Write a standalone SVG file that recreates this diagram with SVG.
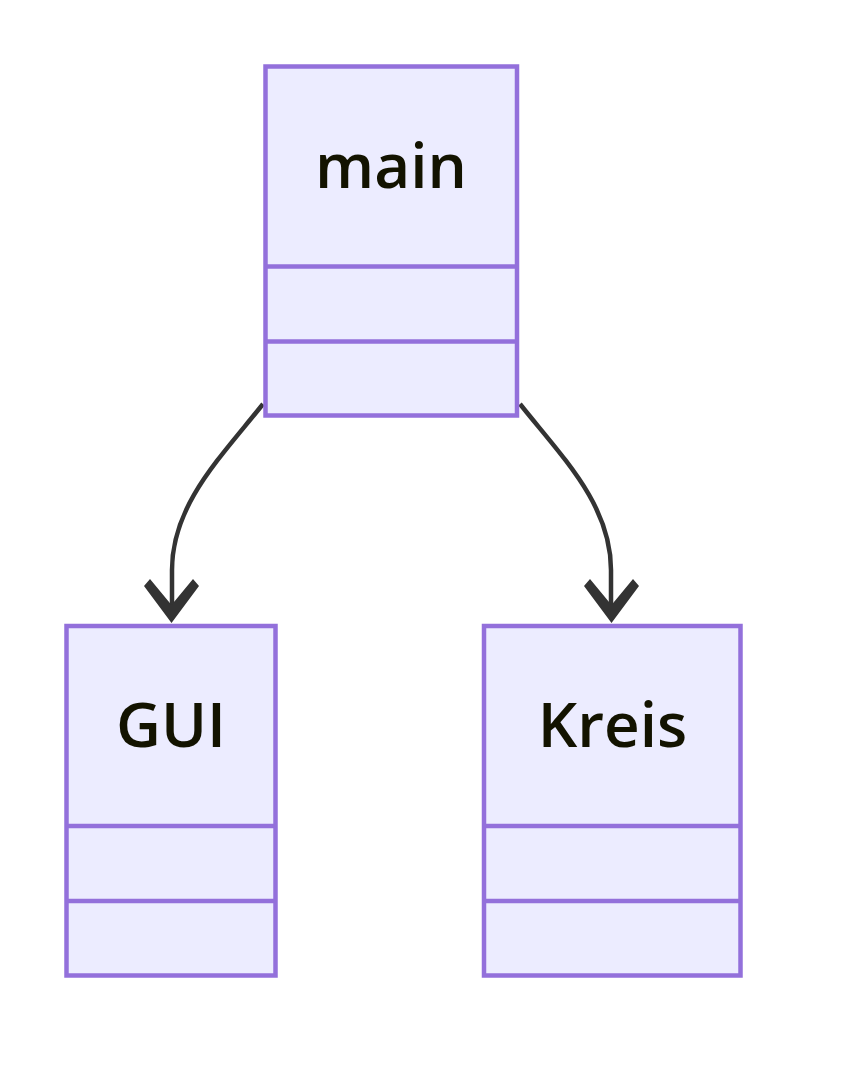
<svg xmlns="http://www.w3.org/2000/svg" width="857" height="1067" viewBox="0 0 857 1067">
<style>
.box{fill:#ECECFF;stroke:#9370DB;stroke-width:4.5}
.div{stroke:#9370DB;stroke-width:4.5;fill:none}
.lbl{font-family:"Open Sans","Liberation Sans",sans-serif;font-weight:600;font-size:62px;fill:#131300;text-anchor:middle}
.edge{fill:none;stroke:#333333;stroke-width:4.5}
.head{fill:#333333;stroke:none}
</style>
<rect width="857" height="1067" fill="#ffffff"/>
<g id="connectors">
<path class="edge" d="M263,404 C220,458 172,505 172,570 L172,610"/>
<polygon class="head" points="144,586 150,579 171.5,605 193,579 199,586 171.5,623"/>
<path class="edge" d="M520,404 C563,458 611,505 611,570 L611,610"/>
<polygon class="head" points="584,586 590,579 611.5,605 633,579 639,586 611.5,623"/>
</g>
<g id="node-main">
<rect class="box" x="265.5" y="66.5" width="251.5" height="349"/>
<line class="div" x1="265.5" y1="266.5" x2="517" y2="266.5"/>
<line class="div" x1="265.5" y1="341.5" x2="517" y2="341.5"/>
<text class="lbl" x="391" y="188">main</text>
</g>
<g id="node-GUI">
<rect class="box" x="66.5" y="626" width="209" height="349.5"/>
<line class="div" x1="66.5" y1="826" x2="275.5" y2="826"/>
<line class="div" x1="66.5" y1="901" x2="275.5" y2="901"/>
<text class="lbl" x="171" y="746.5">GUI</text>
</g>
<g id="node-Kreis">
<rect class="box" x="484" y="626" width="256.5" height="349.5"/>
<line class="div" x1="484" y1="826" x2="740.5" y2="826"/>
<line class="div" x1="484" y1="901" x2="740.5" y2="901"/>
<text class="lbl" x="612.5" y="746.5">Kreis</text>
</g>
</svg>
